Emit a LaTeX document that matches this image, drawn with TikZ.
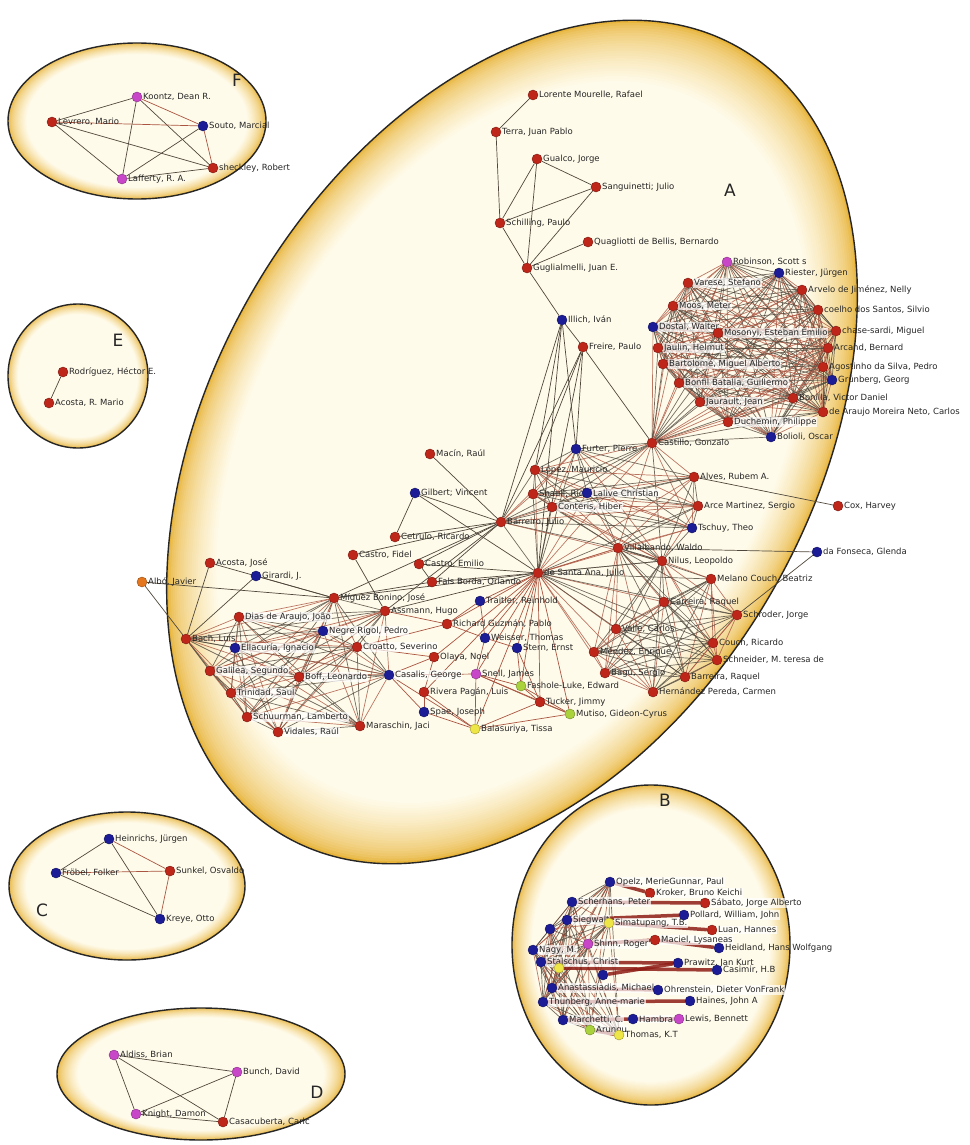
\documentclass[tikz,border=0pt]{standalone}
\usepackage{fontspec}
\setmainfont{DejaVu Sans}
\definecolor{nred}{RGB}{190,38,26}
\definecolor{nblue}{RGB}{28,28,150}
\definecolor{nmag}{RGB}{200,70,200}
\definecolor{nyel}{RGB}{238,230,70}
\definecolor{ngrn}{RGB}{170,210,60}
\definecolor{norg}{RGB}{228,118,30}
\definecolor{lnk}{RGB}{80,72,60}
\definecolor{rlnk}{RGB}{170,85,65}
\definecolor{cream}{RGB}{255,251,234}
\definecolor{goldd}{RGB}{232,180,58}
\pgfdeclarelayer{blobs}
\pgfdeclarelayer{links}
\pgfsetlayers{blobs,links,main}
\tikzset{
  dot/.style={circle, inner sep=0pt, minimum size=10pt, fill=#1, draw=#1!65!black, line width=0.4pt},
  rd/.style={dot=nred}, bl/.style={dot=nblue}, mg/.style={dot=nmag},
  yl/.style={dot=nyel}, gr/.style={dot=ngrn}, og/.style={dot=norg},
  lbl/.style={font=\fontsize{8.5}{9}\selectfont, text=black!85, inner sep=0.8pt},
  wlbl/.style={fill=white, fill opacity=0.7, text opacity=1},
  every label/.style={lbl},
  label distance=0pt,
  link/.style={draw=lnk, line width=0.7pt},
  rlink/.style={draw=rlnk, line width=0.7pt},
  bar/.style={draw=nred!75!black, line width=3.5pt, opacity=0.85},
  rim/.style={draw=black!85, line width=1.4pt},
  tag/.style={font=\fontsize{17}{18}\selectfont, text=black!85}
}
% glowing ellipse: centre x, centre y, x radius, y radius, angle
\newcommand{\glowell}[5]{%
  \foreach \t in {0,...,24}{%
    \pgfmathsetmacro{\s}{1-0.006*\t}%
    \pgfmathsetmacro{\m}{100*(\t/24)^0.6}%
    \fill[cream!\m!goldd, rotate around={#5:(#1,#2)}] (#1,#2) ellipse [x radius=\s*#3, y radius=\s*#4];
  }
  \draw[rim, rotate around={#5:(#1,#2)}] (#1,#2) ellipse [x radius=#3, y radius=#4];
}
\begin{document}
\begin{tikzpicture}[x=1pt,y=-1pt]
\useasboundingbox (0,0) rectangle (969,1145);
\begin{pgfonlayer}{blobs}
\fill[white] (0,0) rectangle (969,1145);
\glowell{512}{442}{455}{300}{60}
\glowell{137}{121}{129}{78}{0}
\glowell{78}{376}{70}{72}{0}
\glowell{127}{886}{118}{74}{0}
\glowell{201}{1074}{144}{66}{0}
\glowell{651}{945}{139}{160}{0}
\end{pgfonlayer}

\node[tag] (tA) at (730,190) {A};
\node[tag] (tB) at (665,800) {B};
\node[tag] (tC) at (42,910) {C};
\node[tag] (tD) at (317,1092) {D};
\node[tag] (tE) at (118,340) {E};
\node[tag] (tF) at (237,80) {F};

% F
\node[mg,label={right:{Koontz, Dean R.}}] (koontz) at (137,97) {};
\node[rd,label={right:{Levrero, Mario}}] (levrero) at (52,122) {};
\node[bl,label={right:{Souto, Marcial}}] (souto) at (203,126) {};
\node[rd,label={right:{sheckley, Robert}}] (sheckley) at (213,168) {};
\node[mg,label={right:{Lafferty, R. A.}}] (lafferty) at (122,179) {};
% E
\node[rd,label={right:{Rodríguez, Héctor E.}}] (rodriguez) at (63,372) {};
\node[rd,label={right:{Acosta, R. Mario}}] (acostar) at (49,403) {};
% C
\node[bl,label={right:{Heinrichs, Jürgen}}] (heinrichs) at (109,839) {};
\node[bl,label={right:{Fröbel, Folker}}] (frobel) at (56,873) {};
\node[rd,label={right:{Sunkel, Osvaldo}}] (sunkel) at (170,871) {};
\node[bl,label={right:{Kreye, Otto}}] (kreye) at (160,919) {};
% D
\node[mg,label={right:{Aldiss, Brian}}] (aldiss) at (114,1055) {};
\node[mg,label={right:{Bunch, David}}] (bunch) at (237,1072) {};
\node[mg,label={right:{Knight, Damon}}] (knight) at (136,1114) {};
\node[rd,label={right:{Casacuberta, Carlc}}] (casacuberta) at (223,1122) {};

% A, top
\node[rd,label={right:{Lorente Mourelle, Rafael}}] (lorente) at (533,95) {};
\node[rd,label={right:{Terra, Juan Pablo}}] (terra) at (496,132) {};
\node[rd,label={right:{Gualco, Jorge}}] (gualco) at (537,159) {};
\node[rd,label={right:{Sanguinetti; Julio}}] (sanguinetti) at (596,187) {};
\node[rd,label={right:{Schilling, Paulo}}] (schilling) at (500,223) {};
\node[rd,label={right:{Quagliotti de Bellis, Bernardo}}] (quagliotti) at (588,242) {};
\node[rd,label={right:{Guglialmelli, Juan E.}}] (guglialmelli) at (527,268) {};
\node[bl,label={right:{Illich, Iván}}] (illich) at (562,320) {};
\node[rd,label={right:{Freire, Paulo}}] (freire) at (583,347) {};

% A, right cluster
\node[mg,label={right:{Robinson, Scott s}}] (robinson) at (727,262) {};
\node[bl,label={right:{Riester, Jürgen}}] (riester) at (779,273) {};
\node[rd,label={[wlbl]right:{Varese, Stefano}}] (varese) at (688,283) {};
\node[rd,label={right:{Arvelo de Jiménez, Nelly}}] (arvelo) at (802,290) {};
\node[rd,label={[wlbl]right:{Moos, Meter}}] (moos) at (673,306) {};
\node[rd,label={right:{coelho dos Santos, Silvio}}] (coelho) at (818,310) {};
\node[bl,label={[wlbl]right:{Dostal, Walter}}] (dostal) at (653,327) {};
\node[rd,label={[wlbl]right:{Mosonyi, Esteban Emilio}}] (mosonyi) at (718,333) {};
\node[rd,label={right:{chase-sardi, Miguel}}] (chase) at (836,331) {};
\node[rd,label={[wlbl]right:{Jaulin, Helmut}}] (jaulin) at (658,348) {};
\node[rd,label={right:{Arcand, Bernard}}] (arcand) at (828,348) {};
\node[rd,label={[wlbl]right:{Bartolomé, Miguel Alberto}}] (bartolome) at (663,364) {};
\node[rd,label={right:{Agostinho da Silva, Pedro}}] (agostinho) at (823,367) {};
\node[bl,label={right:{Grünberg, Georg}}] (grunberg) at (832,380) {};
\node[rd,label={[wlbl]right:{Bonfil Batalla, Guillermo}}] (bonfil) at (679,383) {};
\node[rd,label={[wlbl]right:{Jaurault, Jean}}] (jaurault) at (700,402) {};
\node[rd,label={right:{Bonilla, Victor Daniel}}] (bonilla) at (793,398) {};
\node[rd,label={right:{de Araujo Moreira Neto, Carlos}}] (moreira) at (823,412) {};
\node[rd,label={[wlbl]right:{Duchemin, Philippe}}] (duchemin) at (728,422) {};
\node[bl,label={right:{Bolioli, Oscar}}] (bolioli) at (771,437) {};
\node[rd,label={right:{Castillo, Gonzalo}}] (castillo) at (652,443) {};

% A, middle
\node[bl,label={right:{Furter, Pierre}}] (furter) at (576,449) {};
\node[rd,label={right:{Macín, Raúl}}] (macin) at (430,454) {};
\node[rd,label={right:{López, Mauricio}}] (lopez) at (535,470) {};
\node[rd,label={right:{Alves, Rubem A.}}] (alves) at (694,477) {};
\node[bl,label={right:{Gilbert; Vincent}}] (gilbert) at (415,493) {};
\node[rd,label={right:{Shaull, Ric}}] (shaull) at (533,494) {};
\node[bl,label={[wlbl]right:{Lalive Christian}}] (lalive) at (587,493) {};
\node[rd,label={[wlbl]right:{Conteris, Hiber}}] (conteris) at (552,507) {};
\node[rd,label={right:{Arce Martinez, Sergio}}] (arce) at (698,506) {};
\node[rd,label={right:{Barreiro, Julio}}] (barreiro) at (501,522) {};
\node[bl,label={right:{Tschuy, Theo}}] (tschuy) at (692,528) {};
\node[rd,label={right:{Cetrulo, Ricardo}}] (cetrulo) at (395,537) {};
\node[rd,label={right:{Villalbando, Waldo}}] (villalbando) at (618,548) {};
\node[rd,label={right:{Nilus, Leopoldo}}] (niilus) at (662,561) {};
\node[rd,label={right:{Cox, Harvey}}] (cox) at (838,506) {};
\node[bl,label={right:{da Fonseca, Glenda}}] (fonseca) at (817,552) {};
\node[rd,label={right:{Castro, Emilio}}] (castroe) at (419,564) {};
\node[rd,label={right:{de Santa Ana, Julio}}] (desanta) at (538,573) {};
\node[rd,label={right:{Fals Borda, Orlando}}] (falsborda) at (432,582) {};
\node[bl,label={right:{Traitler, Reinhold}}] (traitler) at (480,601) {};
\node[rd,label={right:{Richard Guzmán, Pablo}}] (guzman) at (447,624) {};
\node[bl,label={right:{Weisser, Thomas}}] (weisser) at (485,638) {};
\node[bl,label={right:{Stern, Ernst}}] (stern) at (517,648) {};
\node[rd,label={right:{Olaya, Noel}}] (olaya) at (434,657) {};
\node[mg,label={right:{Snell, James}}] (snell) at (476,674) {};
\node[gr,label={right:{Fashole-Luke, Edward}}] (fashole) at (521,686) {};
\node[rd,label={right:{Rivera Pagán, Luis}}] (rivera) at (424,692) {};
\node[rd,label={right:{Tucker, Jimmy}}] (tucker) at (540,702) {};
\node[bl,label={right:{Spae, Joseph}}] (spae) at (424,712) {};
\node[gr,label={right:{Mutiso, Gideon-Cyrus}}] (mutiso) at (570,714) {};
\node[yl,label={right:{Balasuriya, Tissa}}] (balasuriya) at (475,729) {};
\node[rd,label={right:{Melano Couch, Beatriz}}] (melano) at (711,579) {};
\node[rd,label={right:{Carreira, Raquel}}] (carreira) at (664,602) {};
\node[rd,label={right:{Schroder, Jorge}}] (schroder) at (737,615) {};
\node[rd,label={right:{Valle, Carlos}}] (valle) at (616,629) {};
\node[rd,label={right:{Couch, Ricardo}}] (couch) at (713,643) {};
\node[rd,label={right:{Méndez, Enrique}}] (mendez) at (594,652) {};
\node[rd,label={right:{Schneider, M. teresa de}}] (schneider) at (717,660) {};
\node[rd,label={right:{Bagú, Sergio}}] (bagu) at (605,673) {};
\node[rd,label={right:{Barreira, Raquel}}] (barreira) at (685,677) {};
\node[rd,label={right:{Hernández Pereda, Carmen}}] (hernandez) at (653,692) {};

% A, lower left
\node[rd,label={right:{Acosta, José}}] (acostaj) at (210,563) {};
\node[og,label={right:{Albó, Javier}}] (albo) at (142,582) {};
\node[bl,label={right:{Girardi, J.}}] (girardi) at (256,576) {};
\node[rd,label={right:{Castro, Fidel}}] (castrof) at (353,555) {};
\node[rd,label={right:{Míguez Bonino, José}}] (miguez) at (334,598) {};
\node[rd,label={right:{Assmann, Hugo}}] (assmann) at (385,611) {};
\node[rd,label={[wlbl]right:{Dias de Araujo, João}}] (dias) at (239,617) {};
\node[bl,label={[wlbl]right:{Negre Rigol, Pedro}}] (negre) at (323,631) {};
\node[rd,label={right:{Bach, Luis}}] (bach) at (186,639) {};
\node[bl,label={[wlbl]right:{Ellacuría, Ignacio}}] (ellacuria) at (235,648) {};
\node[rd,label={[wlbl]right:{Croatto, Severino}}] (croatto) at (357,647) {};
\node[rd,label={[wlbl]right:{Galilea, Segundo}}] (galilea) at (210,671) {};
\node[rd,label={[wlbl]right:{Boff, Leonardo}}] (boff) at (299,677) {};
\node[bl,label={[wlbl]right:{Casalis, George}}] (casalis) at (389,675) {};
\node[rd,label={[wlbl]right:{Trinidad, Saul}}] (trinidad) at (231,693) {};
\node[rd,label={[wlbl]right:{Schuurman, Lamberto}}] (schuurman) at (247,717) {};
\node[rd,label={right:{Maraschin, Jaci}}] (maraschin) at (360,726) {};
\node[rd,label={[wlbl]right:{Vidales, Raúl}}] (vidales) at (278,732) {};

% B
\node[bl,label={[wlbl]right:{Opelz, MerieGunnar, Paul}}] (opelz) at (610,882) {};
\node[rd,label={[wlbl]right:{Kroker, Bruno Keichi}}] (kroker) at (650,893) {};
\node[bl,label={[wlbl]right:{Scherhans, Peter}}] (scherhans) at (572,902) {};
\node[rd,label={[wlbl]right:{Sábato, Jorge Alberto}}] (sabato) at (705,903) {};
\node[bl,label={[wlbl]right:{Siegwalt}}] (siegwalt) at (567,920) {};
\node[yl,label={[wlbl]right:{Simatupang, T.B.}}] (simatupang) at (609,923) {};
\node[bl,label={[wlbl]right:{Pollard, William, John}}] (pollard) at (684,915) {};
\node[bl] (sandberg) at (550,929) {};
\node[rd,label={[wlbl]right:{Luan, Hannes}}] (hannes) at (712,930) {};
\node[mg,label={[wlbl]right:{Shinn, Roger}}] (shinn) at (588,944) {};
\node[rd,label={[wlbl]right:{Maciel, Lysaneas}}] (maciel) at (655,940) {};
\node[bl,label={[wlbl]right:{Nagy, M.}}] (nagy) at (533,950) {};
\node[bl,label={right:{Heidland, Hans Wolfgang}}] (heidland) at (719,948) {};
\node[bl,label={[wlbl]right:{Stalschus, Christ}}] (stalschus) at (541,962) {};
\node[yl] (byel) at (559,968) {};
\node[bl,label={right:{Prawitz, Jan Kurt}}] (prawitz) at (678,963) {};
\node[bl] (bmid) at (603,975) {};
\node[bl,label={right:{Casimir, H.B}}] (casimir) at (717,970) {};
\node[bl,label={[wlbl]right:{Anastassiadis, Michael}}] (anast) at (552,988) {};
\node[bl,label={[wlbl]right:{Ohrenstein, Dieter VonFrank}}] (ohren) at (658,990) {};
\node[bl,label={[wlbl]right:{Thunberg, Anne-marie}}] (thunberg) at (543,1002) {};
\node[bl,label={right:{Haines, John A}}] (haines) at (690,1001) {};
\node[bl,label={[wlbl]right:{Marchetti, C.}}] (marchetti) at (563,1020) {};
\node[bl,label={[wlbl]right:{Hambra}}] (hambra) at (633,1019) {};
\node[mg,label={right:{Lewis, Bennett}}] (lewis) at (679,1019) {};
\node[gr,label={[wlbl]right:{Arungu}}] (arungu) at (590,1030) {};
\node[yl,label={right:{Thomas, K.T}}] (thomas) at (619,1035) {};

\begin{pgfonlayer}{links}
\path[link]
 (koontz) edge (levrero) (koontz) edge (sheckley) (koontz) edge (lafferty)
 (levrero) edge (sheckley) (levrero) edge (lafferty) (souto) edge (lafferty)
 (lafferty) edge (sheckley)
 (rodriguez) edge (acostar)
 (heinrichs) edge (frobel) (heinrichs) edge (kreye) (frobel) edge (kreye)
 (aldiss) edge (bunch) (aldiss) edge (knight) (aldiss) edge (casacuberta)
 (bunch) edge (knight) (bunch) edge (casacuberta) (knight) edge (casacuberta)
 (lorente) edge (terra) (terra) edge (schilling) (gualco) edge (schilling)
 (gualco) edge (guglialmelli) (gualco) edge (sanguinetti) (sanguinetti) edge (schilling)
 (sanguinetti) edge (guglialmelli) (schilling) edge (guglialmelli)
 (quagliotti) edge (guglialmelli) (guglialmelli) edge (illich)
 (illich) edge (freire) (illich) edge (furter) (illich) edge (barreiro) (illich) edge (desanta)
 (illich) edge (lopez) (freire) edge (castillo) (freire) edge (barreiro) (freire) edge (desanta)
 (freire) edge (furter) (freire) edge (lopez)
 (macin) edge (barreiro) (gilbert) edge (barreiro) (gilbert) edge (cetrulo) (gilbert) edge (desanta)
 (cetrulo) edge (barreiro) (castroe) edge (barreiro) (castroe) edge (falsborda) (castroe) edge (desanta)
 (falsborda) edge (desanta) (falsborda) edge (barreiro) (falsborda) edge (miguez)
 (castrof) edge (assmann) (castrof) edge (barreiro) (miguez) edge (desanta) (assmann) edge (desanta)
 (miguez) edge (barreiro) (assmann) edge (barreiro) (alves) edge (cox)
 (villalbando) edge (fonseca) (schroder) edge (fonseca)
 (albo) edge (bach) (albo) edge (miguez) (acostaj) edge (bach) (acostaj) edge (miguez)
 (girardi) edge (bach) (girardi) edge (miguez);
\path[rlink]
 (koontz) edge (souto) (levrero) edge (souto) (souto) edge (sheckley)
 (heinrichs) edge (sunkel) (frobel) edge (sunkel) (sunkel) edge (kreye)
 (desanta) edge (traitler) (desanta) edge (guzman) (desanta) edge (weisser) (desanta) edge (stern)
 (desanta) edge (olaya) (desanta) edge (snell) (desanta) edge (fashole) (desanta) edge (tucker)
 (desanta) edge (mutiso) (desanta) edge (balasuriya) (desanta) edge (rivera)
 (guzman) edge (assmann) (guzman) edge (traitler) (guzman) edge (weisser) (weisser) edge (snell)
 (weisser) edge (stern) (stern) edge (fashole) (stern) edge (tucker) (snell) edge (fashole)
 (snell) edge (tucker) (snell) edge (balasuriya) (snell) edge (mutiso) (fashole) edge (tucker)
 (fashole) edge (mutiso) (tucker) edge (mutiso) (tucker) edge (balasuriya) (balasuriya) edge (spae)
 (balasuriya) edge (rivera) (balasuriya) edge (mutiso) (rivera) edge (spae) (rivera) edge (olaya)
 (olaya) edge (casalis) (olaya) edge (croatto) (casalis) edge (snell) (casalis) edge (balasuriya)
 (casalis) edge (spae) (croatto) edge (guzman) (traitler) edge (weisser);
% dense groups
\foreach \grp in {
  {robinson,riester,varese,arvelo,moos,coelho,dostal,mosonyi,chase,jaulin,arcand,bartolome,agostinho,grunberg,bonfil,jaurault,bonilla,moreira,duchemin,bolioli,castillo},
  {castillo,furter,lopez,shaull,lalive,conteris,alves,arce,tschuy,barreiro,villalbando,niilus,desanta},
  {villalbando,niilus,desanta,melano,carreira,schroder,valle,couch,mendez,schneider,bagu,barreira,hernandez},
  {miguez,assmann,dias,negre,bach,ellacuria,croatto,galilea,boff,casalis,trinidad,schuurman,vidales,maraschin},
  {opelz,scherhans,siegwalt,sandberg,nagy,stalschus,byel,anast,thunberg,marchetti,arungu,thomas,shinn,simatupang}}{
  \foreach \u [count=\i] in \grp {
    \foreach \v [count=\j] in \grp {
      \ifnum\i<\j
        \ifodd\numexpr\i+\j\relax \draw[link,opacity=0.8] (\u) -- (\v);
        \else \draw[rlink,opacity=0.8] (\u) -- (\v); \fi
      \fi
    }
  }
}
\path[bar]
 (opelz) edge (kroker) (scherhans) edge (sabato) (siegwalt) edge (pollard)
 (simatupang) edge (hannes) (shinn) edge (maciel) (maciel) edge (heidland)
 (stalschus) edge (prawitz) (byel) edge (casimir) (anast) edge (ohren)
 (thunberg) edge (haines) (marchetti) edge (hambra) (hambra) edge (lewis)
 (bmid) edge (prawitz) (arungu) edge (thomas);
\end{pgfonlayer}
\end{tikzpicture}
\end{document}
